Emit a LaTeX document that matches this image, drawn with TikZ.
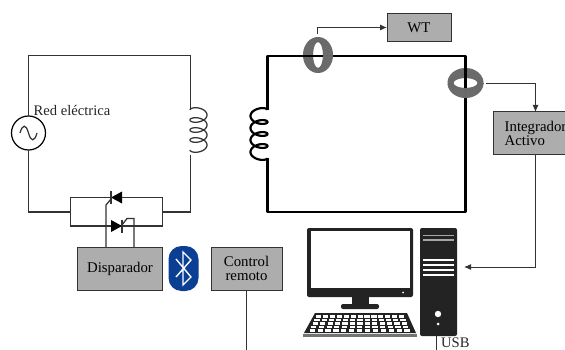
\documentclass[tikz,border=0pt]{standalone}
\usepackage{fontspec}
\setmainfont{Liberation Serif}
\usepackage{xcolor}
\usetikzlibrary{arrows.meta, positioning}
\definecolor{boxgray}{HTML}{ADADAD}
\definecolor{wiregray}{HTML}{333333}
\definecolor{ringgray}{HTML}{6E6E6E}
\definecolor{btblue}{HTML}{0B3F94}
\definecolor{pcblack}{HTML}{232323}
\tikzset{
  wire/.style={draw=wiregray, line width=1.25pt},
  mainwire/.style={draw=black, line width=2.2pt, line join=round},
  sigarrow/.style={wire, line width=1pt, -{Latex[length=7pt,width=6pt]}},
  graybox/.style={draw=wiregray, line width=1pt, fill=boxgray, inner sep=0pt, outer sep=0pt, font=\fontsize{14.8}{14.8}\selectfont},
  lbl/.style={inner sep=0pt, font=\fontsize{14.6}{14.8}\selectfont, text=black!85},
}
\begin{document}
\begin{tikzpicture}[x=1pt, y=-1pt]
    \useasboundingbox (0,0) rectangle (565,350);
    \clip (0,0) rectangle (565,350);
    \fill[white] (0,0) rectangle (565,350);

    % Blocks
    \node[graybox, minimum width=85pt, minimum height=43pt, align=left] (integrador) at (535.5,133.5) {Integrador\\Activo};
    \node[graybox, minimum width=64pt, minimum height=28pt] (wt) at (419,27.5) {WT};
    \node[graybox, minimum width=85pt, minimum height=43pt] (disparador) at (120,268.5) {Disparador};
    \node[graybox, minimum width=71pt, minimum height=43pt, align=center] (control) at (246.5,268.5) {Control\\remoto};

    % Mains circuit
    \node[circle, draw=black, line width=1.2pt, fill=white, minimum size=34pt, inner sep=0pt, outer sep=0pt] (red) at (28.5,133) {};
    \node[lbl, anchor=west] (redlabel) at (33.5,110) {Red eléctrica};
    \coordinate (tl) at (28.5,55.5);
    \coordinate (tr) at (190.5,55.5);
    \coordinate (coilatop) at (190.5,110);
    \coordinate (coilabot) at (190.5,155);
    \coordinate (br) at (190.5,212);
    \coordinate (bl) at (28.5,212);
    \coordinate (thl) at (70.5,212);
    \coordinate (thr) at (162.5,212);
    \draw[wire] (red) -- (tl) -- (tr) -- (coilatop);
    \draw[wire] (coilabot) -- (br) -- (thr);
    \draw[wire] (red) -- (bl) -- (thl);
    \draw[wire] plot[domain=-180:1260, samples=150, variable=\t] ({198.5+8.5*cos(\t)},{115+\t/36+4.5*sin(\t)});
    \draw[wire] (20,133) .. controls (22.5,124) and (26,124) .. (28.5,133) .. controls (31,142) and (34.5,142) .. (37,133);

    % Thyristors
    \draw[wire] (thl |- 0,197.5) rectangle (thr |- 0,226);
    \fill[black] (111,197.5) -- (122,191.5) -- (122,203.5) -- cycle;
    \fill[black] (122,226) -- (111,220) -- (111,232) -- cycle;
    \draw[wire] (111,191) -- (111,204);
    \draw[wire] (122,219.5) -- (122,232.5);
    \coordinate (gateup) at (106,205);
    \coordinate (gatelow) at (134,218.5);
    \draw[wire] (gateup |- disparador.north) -- (gateup) -- (111,199);
    \draw[wire] (gatelow |- disparador.north) -- (gatelow) -- (127,218.5) -- (122,225);

    % Bluetooth
    \node[draw=none, fill=btblue, rounded corners=13pt, minimum width=30pt, minimum height=45pt, inner sep=0pt] (bt) at (183.5,268.5) {};
    \draw[white, line width=1.4pt, line join=miter] (176,259) -- (191,277) -- (183,285) -- (183,252) -- (191,260) -- (176,277);

    % Secondary loop
    \coordinate (c1) at (267.5,56);
    \coordinate (c2) at (465.5,56);
    \coordinate (c3) at (465.5,212);
    \coordinate (c4) at (267.5,212);
    \coordinate (coilbtop) at (267.5,110);
    \coordinate (coilbbot) at (267.5,158);
    \draw[mainwire] (coilbtop) -- (c1) -- (c2) -- (c3) -- (c4) -- (coilbbot);
    \draw[mainwire] plot[domain=-180:1260, samples=150, variable=\t] ({259-8.5*cos(\t)},{116+\t/30+4.5*sin(\t)});

    % Current transformers
    \fill[ringgray, even odd rule] (318,55) ellipse [x radius=15, y radius=18] (318,55) ellipse [x radius=5, y radius=13];
    \foreach \a in {0,6,...,354} {
        \draw[black!60, line width=0.4pt] ({318+5*cos(\a)},{55+13*sin(\a)}) -- ({318+15*cos(\a)},{55+18*sin(\a)});
    }
    \draw[mainwire] (267.5,56) -- (323,56);
    \fill[ringgray, even odd rule] (465.5,83) ellipse [x radius=18, y radius=15] (465.5,83) ellipse [x radius=12, y radius=5];
    \foreach \a in {0,6,...,354} {
        \draw[black!60, line width=0.4pt] ({465.5+12*cos(\a)},{83+5*sin(\a)}) -- ({465.5+18*cos(\a)},{83+15*sin(\a)});
    }
    \draw[mainwire] (465.5,56) -- (465.5,88);

    % Signal connections
    \coordinate (ctone) at (317,34);
    \coordinate (cttwo) at (486,84);
    \coordinate (pcin) at (464,267);
    \coordinate (usbend) at (436.5,350);
    \coordinate (usbtop) at (436.5,336);
    \coordinate (ctrlend) at (246.5,350);
    \draw[sigarrow] (ctone) |- (wt.west);
    \draw[sigarrow] (cttwo) -| (integrador.north);
    \draw[sigarrow] (integrador.south) |- (pcin);
    \draw[wire] (control.south) -- (ctrlend);
    \draw[wire] (usbtop) -- (usbend);
    \node[lbl, anchor=base west] (usb) at (441,347.5) {USB};

    % Monitor
    \fill[pcblack, rounded corners=2pt] (307,228) rectangle (413,297);
    \fill[white] (311,231) rectangle (410,288);
    \fill[pcblack] (352,296) rectangle (369,305);
    \fill[pcblack, rounded corners=2pt] (341,304) rectangle (379,309);
    \fill[white] (403,292.5) circle (1pt);

    % Keyboard
    \fill[pcblack] (315,313) -- (407,313) -- (416,333) -- (304,333) -- cycle;
    \fill[black!55] (303,334) rectangle (417,337);
    \foreach \r in {0,...,4} {
        \foreach \k in {0,...,12} {
            \pgfmathsetmacro{\yt}{315+\r*3.6}
            \pgfmathsetmacro{\xa}{317-(\r*3.6+2)*0.45+\k*(88+(\r*3.6+2)*0.9)/13}
            \fill[white] (\xa,\yt) rectangle ++(5.2,2.5);
        }
    }

    % Tower
    \fill[pcblack, rounded corners=2pt] (420,228) rectangle (457,336);
    \foreach \yy in {235.5,240} {
        \draw[black!35, line width=1.2pt] (423,\yy) -- (454,\yy);
    }
    \foreach \yy in {260,265,270,275} {
        \draw[white, line width=1.5pt] (423,\yy) -- (454,\yy);
    }
    \fill[white] (438,314) circle (3.2pt);
    \fill[white] (438,324) circle (1.5pt);
\end{tikzpicture}
\end{document}
